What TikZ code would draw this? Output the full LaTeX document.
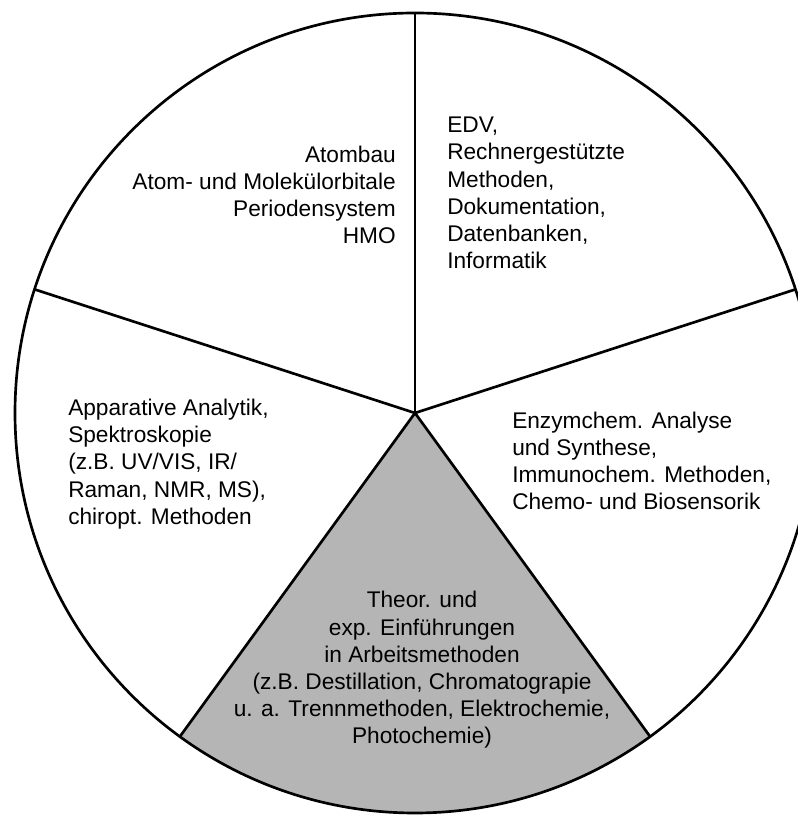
\documentclass[tikz,border=0pt]{standalone}
\usepackage{fontspec}
\setsansfont{Liberation Sans}
\usetikzlibrary{positioning}

\begin{document}
\begin{tikzpicture}[
		x=0.75pt, y=0.75pt,
		sector/.style={draw, line width=2pt},
		shaded/.style={fill=gray!58},
		mylabel/.style={font=\sffamily\fontsize{17}{20.4}\selectfont, inner sep=0pt},
	]
	\useasboundingbox (0,0) rectangle (797,816);
	\coordinate (c) at (415,403);

	\fill[shaded] (c) -- ++(234:400) arc[start angle=234, end angle=306, radius=400] -- cycle;
	\draw[sector] (c) circle[radius=400];
	\foreach \a in {90,162,234,306,18}
		\draw[sector] (c) -- ++(\a:400);

	\node[mylabel, align=right, anchor=east] (atom) at (396,621) {Atombau\\Atom- und Molekülorbitale\\Periodensystem\\HMO};
	\node[mylabel, align=left, anchor=west] (edv) at (447,623) {EDV,\\Rechnergestützte\\Methoden,\\Dokumentation,\\Datenbanken,\\Informatik};
	\node[mylabel, align=left, anchor=west] (appar) at (68,352) {Apparative Analytik,\\Spektroskopie\\(z.B. UV/VIS, IR/\\Raman, NMR, MS),\\chiropt. Methoden};
	\node[mylabel, align=left, anchor=west] (enzym) at (512,355) {Enzymchem. Analyse\\und Synthese,\\Immunochem. Methoden,\\Chemo- und Biosensorik};
	\node[mylabel, align=center] (theor) at (422,146) {Theor. und\\exp. Einführungen\\in Arbeitsmethoden\\(z.B. Destillation, Chromatograpie\\u. a. Trennmethoden, Elektrochemie,\\Photochemie)};

\end{tikzpicture}
\end{document}
